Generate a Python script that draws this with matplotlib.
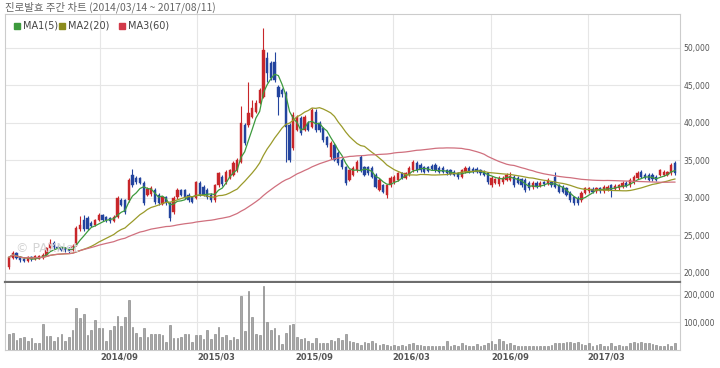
import matplotlib
matplotlib.use('Agg')
import matplotlib.pyplot as plt
import matplotlib.dates as mdates
import numpy as np
import pandas as pd

plt.rcParams['font.family'] = ['DejaVu Sans']

TITLE = '진로발효 주간 차트 (2014/03/14 ~ 2017/08/11)'
START = '2014-03-14'

# weekly prices, in thousands of won
open_ = [20.8, 22.0, 22.6, 22.1, 21.9, 21.6, 22.1, 21.8, 21.9, 22.0,
         22.4, 23.3, 24.0, 23.5, 23.4, 23.3, 23.3, 23.0, 23.7, 25.8,
         27.0, 27.3, 26.7, 26.4, 27.0, 27.7, 27.4, 27.3, 26.9, 27.5,
         29.7, 29.7, 29.7, 33.1, 32.7, 32.6, 32.0, 30.4, 30.5, 31.1,
         30.4, 29.2, 30.1, 29.3, 28.1, 30.1, 31.0, 31.0, 30.4, 30.1,
         30.0, 32.0, 31.5, 31.1, 30.4, 29.7, 31.7, 32.8, 32.1, 32.7,
         33.1, 33.7, 34.8, 39.7, 39.7, 40.8, 41.5, 42.7, 43.5, 48.7,
         48.0, 48.1, 44.8, 44.4, 44.0, 39.7, 36.7, 39.1, 40.7, 39.1,
         40.0, 39.5, 41.5, 40.0, 39.3, 38.1, 35.5, 37.1, 36.0, 35.1,
         34.1, 32.4, 33.1, 33.7, 35.5, 34.1, 34.1, 34.0, 33.1, 31.1,
         31.7, 30.4, 31.7, 32.1, 32.4, 33.3, 32.7, 33.1, 33.7, 34.7,
         34.4, 34.1, 34.1, 34.3, 34.4, 34.0, 34.0, 33.7, 33.7, 33.5,
         33.3, 32.8, 33.5, 34.0, 33.9, 33.9, 33.7, 33.5, 33.3, 31.7,
         32.0, 31.8, 32.1, 32.4, 32.4, 32.8, 32.7, 32.5, 32.4, 32.0,
         31.4, 32.0, 31.6, 32.1, 31.9, 32.1, 32.8, 31.7, 31.5, 31.3,
         30.7, 30.1, 30.0, 29.7, 30.7, 30.9, 31.2, 30.9, 31.3, 30.9,
         31.1, 31.7, 31.2, 31.3, 31.5, 32.0, 31.7, 32.1, 32.7, 33.5,
         33.1, 33.1, 33.1, 32.8, 33.1, 33.1, 33.1, 33.3, 34.7]
high = [22.2, 22.9, 22.8, 22.3, 22.1, 22.3, 22.2, 22.4, 22.4, 22.6,
        23.5, 24.5, 24.3, 23.7, 23.5, 23.4, 23.4, 23.8, 26.2, 27.6,
        27.7, 27.6, 26.9, 27.2, 28.0, 27.9, 27.6, 27.5, 27.7, 30.2,
        30.0, 29.9, 32.6, 33.9, 32.9, 32.8, 32.2, 31.5, 31.6, 31.3,
        30.6, 30.3, 30.3, 29.5, 30.2, 31.3, 31.2, 31.2, 30.6, 30.3,
        32.3, 32.2, 31.7, 31.3, 30.6, 31.9, 33.5, 33.0, 33.7, 33.9,
        34.9, 35.3, 42.3, 40.0, 45.5, 43.0, 43.0, 44.7, 52.7, 49.5,
        48.3, 49.5, 45.1, 44.7, 44.3, 40.0, 41.5, 41.1, 40.9, 41.0,
        40.3, 42.0, 41.8, 40.2, 39.5, 38.3, 37.6, 37.3, 36.2, 35.3,
        34.3, 33.9, 34.2, 35.0, 35.7, 34.3, 34.3, 34.2, 33.3, 32.6,
        31.9, 31.9, 32.9, 33.0, 33.5, 33.5, 33.5, 34.2, 35.0, 34.9,
        34.6, 34.3, 34.3, 34.5, 34.6, 34.2, 34.2, 33.9, 33.9, 33.7,
        33.5, 33.9, 34.2, 34.2, 34.1, 34.1, 33.9, 33.7, 33.5, 32.9,
        32.7, 32.9, 32.9, 33.3, 33.4, 33.0, 32.9, 32.7, 32.6, 32.2,
        32.2, 32.2, 32.2, 32.3, 32.6, 32.3, 33.5, 31.9, 31.7, 31.5,
        30.9, 30.3, 30.2, 30.9, 31.5, 31.5, 31.4, 31.5, 31.5, 31.7,
        31.7, 31.9, 31.8, 31.9, 32.2, 32.2, 32.6, 33.0, 33.6, 33.7,
        33.3, 33.3, 33.3, 33.0, 33.9, 33.7, 33.6, 34.6, 34.9]
low = [20.5, 21.8, 21.8, 21.5, 21.4, 21.5, 21.6, 21.7, 21.8, 21.9,
       22.3, 23.1, 23.2, 23.1, 22.9, 22.8, 22.7, 22.9, 23.6, 25.6,
       25.6, 25.7, 26.1, 26.2, 26.9, 26.9, 26.8, 26.7, 26.8, 27.3,
       28.9, 27.9, 29.5, 31.4, 31.9, 31.8, 29.1, 30.2, 30.3, 29.2,
       29.0, 29.0, 29.1, 26.9, 27.9, 29.9, 30.2, 29.8, 29.5, 29.3,
       29.8, 30.2, 30.2, 29.9, 29.5, 29.5, 31.5, 31.6, 31.9, 32.5,
       32.9, 33.5, 34.6, 37.1, 39.5, 40.6, 41.3, 42.5, 43.3, 45.5,
       45.7, 45.5, 41.1, 43.5, 34.8, 34.8, 36.4, 38.9, 38.4, 38.9,
       38.9, 39.3, 38.8, 38.8, 37.4, 36.8, 35.2, 34.9, 34.4, 33.8,
       31.7, 32.2, 32.9, 33.5, 33.5, 32.9, 33.1, 32.6, 31.3, 30.9,
       30.6, 30.0, 31.5, 31.9, 32.2, 32.5, 32.5, 32.9, 33.5, 33.5,
       33.5, 33.3, 33.4, 33.7, 33.5, 33.3, 33.3, 33.1, 33.0, 32.9,
       32.5, 32.6, 33.3, 33.3, 33.3, 33.3, 33.1, 32.9, 31.9, 31.5,
       31.8, 31.6, 31.9, 32.2, 32.2, 31.5, 31.8, 31.5, 30.8, 31.1,
       31.2, 31.3, 31.4, 31.6, 31.7, 31.5, 31.3, 30.6, 30.6, 30.2,
       29.5, 29.1, 29.0, 29.5, 30.5, 30.7, 30.6, 30.7, 30.7, 30.7,
       30.9, 30.1, 31.0, 31.1, 31.3, 31.4, 31.5, 31.9, 32.5, 32.6,
       32.5, 32.2, 32.3, 32.2, 32.9, 32.9, 32.9, 33.1, 33.1]
close = [22.1, 22.7, 22.0, 21.7, 21.6, 22.1, 21.8, 22.2, 22.3, 22.4,
         23.3, 24.0, 23.4, 23.3, 23.1, 23.0, 22.9, 23.6, 26.0, 26.4,
         25.8, 25.9, 26.3, 27.0, 27.7, 27.1, 27.0, 26.9, 27.5, 30.0,
         29.1, 28.1, 32.4, 31.7, 32.1, 32.0, 29.3, 31.2, 31.3, 29.4,
         29.3, 30.1, 29.3, 27.3, 30.0, 31.1, 30.4, 30.0, 29.7, 29.5,
         32.1, 30.4, 30.4, 30.1, 29.7, 31.7, 33.3, 31.8, 33.5, 33.7,
         34.7, 35.1, 40.0, 37.3, 41.3, 42.0, 42.7, 44.4, 49.7, 46.7,
         46.0, 45.7, 43.5, 43.8, 39.5, 35.1, 41.1, 40.8, 38.7, 40.8,
         39.1, 41.7, 39.1, 39.1, 37.7, 37.1, 37.3, 35.1, 34.7, 34.1,
         32.0, 33.7, 34.0, 34.8, 33.7, 33.1, 33.3, 32.8, 31.5, 32.4,
         30.8, 31.7, 32.7, 32.8, 33.3, 32.7, 33.3, 34.0, 34.8, 33.7,
         33.7, 33.5, 33.6, 33.9, 33.7, 33.5, 33.5, 33.3, 33.2, 33.1,
         32.8, 33.7, 34.0, 33.5, 33.5, 33.5, 33.3, 33.1, 32.1, 32.7,
         32.5, 32.7, 32.7, 33.1, 32.9, 31.7, 32.0, 31.7, 31.1, 31.3,
         32.0, 31.5, 32.0, 31.8, 32.4, 31.7, 31.5, 30.8, 30.8, 30.4,
         29.7, 29.3, 29.3, 30.7, 31.3, 31.3, 30.8, 31.3, 30.9, 31.5,
         31.5, 31.1, 31.6, 31.7, 32.0, 31.6, 32.4, 32.8, 33.3, 32.8,
         32.7, 32.4, 32.5, 32.4, 33.7, 33.5, 33.4, 34.4, 33.3]

# weekly volume, in thousands of shares
volume = [58, 62, 35, 43, 49, 31, 43, 25, 25, 96,
          52, 52, 31, 47, 58, 31, 49, 74, 154, 117,
          132, 55, 74, 109, 80, 80, 31, 74, 86, 123,
          86, 121, 181, 83, 62, 49, 80, 47, 58, 58,
          58, 55, 28, 90, 43, 43, 47, 58, 59, 28,
          53, 53, 41, 72, 41, 59, 84, 47, 55, 37,
          49, 41, 197, 68, 216, 121, 58, 53, 231, 101,
          74, 80, 53, 21, 62, 90, 96, 49, 41, 43,
          31, 25, 43, 25, 25, 25, 37, 33, 43, 37,
          58, 31, 28, 25, 18, 28, 25, 33, 25, 18,
          21, 18, 15, 18, 16, 18, 15, 22, 25, 18,
          18, 16, 15, 15, 15, 15, 15, 31, 15, 18,
          15, 25, 18, 15, 15, 21, 15, 18, 25, 31,
          21, 40, 33, 21, 25, 18, 16, 15, 15, 14,
          15, 14, 15, 14, 15, 18, 25, 27, 25, 30,
          28, 25, 28, 21, 18, 25, 15, 18, 21, 15,
          15, 24, 15, 18, 14, 15, 25, 30, 27, 28,
          25, 27, 21, 18, 15, 14, 22, 15, 27]

price_ticks = [20000, 25000, 30000, 35000, 40000, 45000, 50000]
volume_ticks = [100000, 200000]
month_ticks = ['2014-09-01', '2015-03-01', '2015-09-01', '2016-03-01', '2016-09-01', '2017-03-01']
month_labels = ['2014/09', '2015/03', '2015/09', '2016/03', '2016/09', '2017/03']

ma_windows = [5, 20, 60]
ma_names = ['MA1(5)', 'MA2(20)', 'MA3(60)']
ma_colors = ['#3d9a3d', '#9a9a2a', '#d0707e']
legend_colors = ['#3d9a3d', '#8c8c1e', '#d23a4a']

UP = '#c8262a'
DOWN = '#23449e'
GRID = '#e6e6e6'
TEXT = '#555555'


def main():
    dates = pd.date_range(START, periods=len(close), freq='7D')
    x = mdates.date2num(dates)
    o = np.array(open_) * 1000
    h = np.array(high) * 1000
    l = np.array(low) * 1000
    c = np.array(close) * 1000
    v = np.array(volume) * 1000
    up = c >= o
    colors = np.where(up, UP, DOWN)

    fig = plt.figure(figsize=(7.2, 3.68), dpi=100)
    ax = fig.add_axes([5 / 720, 1 - 282 / 368, 675 / 720, 268 / 368])
    axv = fig.add_axes([5 / 720, 1 - 350 / 368, 675 / 720, 67 / 368], sharex=ax)

    # price panel
    ax.vlines(x, l, h, colors=colors, linewidth=0.8, zorder=3)
    ax.bar(x, np.maximum(np.abs(c - o), 60), bottom=np.minimum(o, c), width=4.3,
           color=colors, edgecolor=colors, linewidth=0.3, zorder=4)
    closes = pd.Series(c)
    for w, col in zip(ma_windows, ma_colors):
        ax.plot(x, closes.rolling(w, min_periods=1).mean(), color=col, linewidth=0.9, zorder=5)

    ax.set_ylim(18800, 54530)
    ax.set_yticks(price_ticks)
    ax.set_yticklabels([f'{t:,}' for t in price_ticks])
    ax.yaxis.tick_right()
    ax.tick_params(axis='y', length=0, pad=2.5, labelsize=5.5, labelcolor=TEXT)
    ax.tick_params(axis='x', length=0, labelbottom=False)
    ax.grid(True, color=GRID, linewidth=0.8)
    ax.set_axisbelow(True)
    for s in ['top', 'left', 'right']:
        ax.spines[s].set_color('#cccccc')
        ax.spines[s].set_linewidth(0.8)
    ax.spines['bottom'].set_color('#6e6e6e')
    ax.spines['bottom'].set_linewidth(1.6)

    # volume panel
    axv.bar(x, v, width=3.2, color='#a8a8a8', edgecolor='#7a7a7a', linewidth=0.4, zorder=3)
    axv.set_ylim(0, 243600)
    axv.set_yticks(volume_ticks)
    axv.set_yticklabels([f'{t:,}' for t in volume_ticks])
    axv.yaxis.tick_right()
    axv.tick_params(axis='y', length=0, pad=2.5, labelsize=5.5, labelcolor=TEXT)
    axv.set_xticks(mdates.date2num(pd.to_datetime(month_ticks)))
    axv.set_xticklabels(month_labels, ha='left', fontweight='bold')
    axv.tick_params(axis='x', length=0, pad=2, labelsize=6, labelcolor=TEXT)
    axv.grid(True, color=GRID, linewidth=0.8)
    axv.set_axisbelow(True)
    for s in axv.spines.values():
        s.set_color('#cccccc')
        s.set_linewidth(0.8)
    axv.spines['top'].set_visible(False)
    ax.set_xlim(x[0] - 7.5, x[-1] + 9.5)

    # title, legend, watermark
    fig.text(5 / 720, 1 - 7 / 368, TITLE, fontsize=7.5, color='#666666', va='center',
             family=['Noto Sans CJK KR', 'DejaVu Sans'])
    lx = [17, 62, 122]
    for px, name, col in zip(lx, ma_names, legend_colors):
        fig.patches.append(plt.Rectangle(((px - 3) / 720, 1 - 29 / 368), 6 / 720, 6 / 368,
                                         transform=fig.transFigure, color=col, figure=fig))
        fig.text((px + 6) / 720, 1 - 26 / 368, name, fontsize=7, color='#444444', va='center')
    fig.text(16 / 720, 1 - 249 / 368, '© PAXNet', fontsize=9, color='#d4d4d4', va='center', zorder=1)

    fig.savefig('out.png', dpi=100, facecolor='white')


if __name__ == '__main__':
    main()
